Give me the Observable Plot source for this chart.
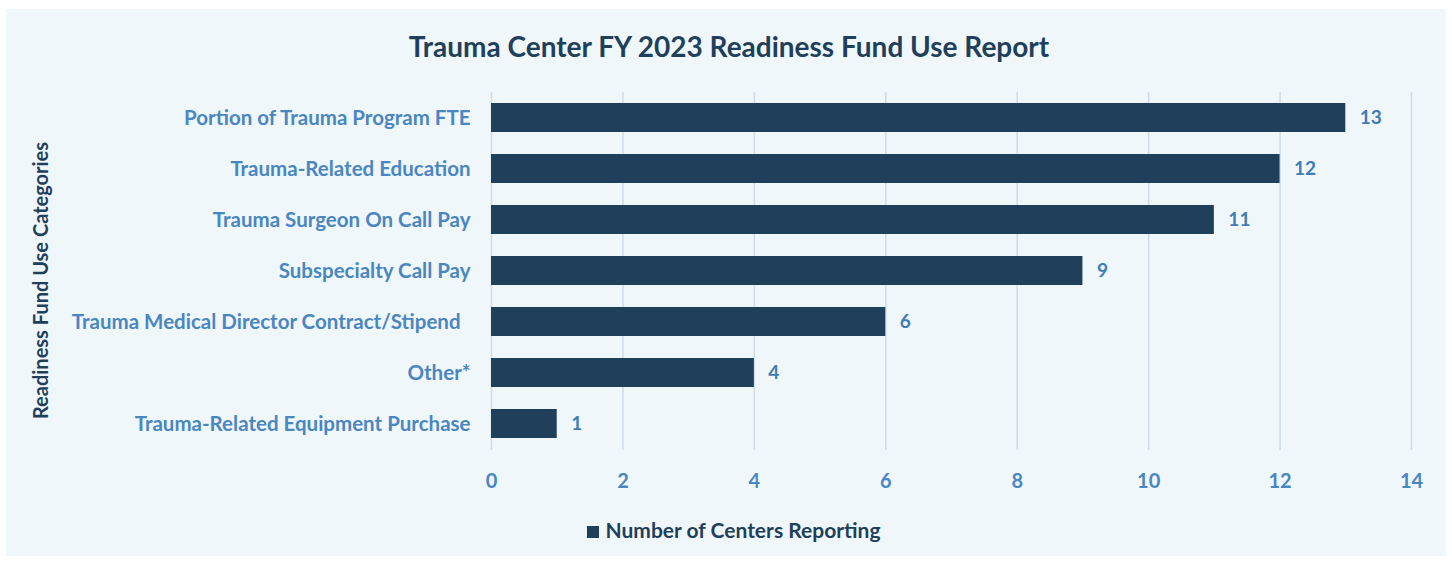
<!DOCTYPE html>
<html>
<head>
<meta charset="utf-8">
<script src="https://cdn.jsdelivr.net/npm/d3@7"></script>
<script src="https://cdn.jsdelivr.net/npm/@observablehq/plot@0.6"></script>
<style>
  html, body { margin: 0; padding: 0; background: #ffffff; }
  body { width: 1452px; height: 562px; position: relative; overflow: hidden; font-family: Lato, "Open Sans", sans-serif; }
  #panel { position: absolute; left: 6px; top: 9px; width: 1440px; height: 547px; background: #eff7fa; }
  #title { position: absolute; left: 0; top: 29px; width: 1458px; text-align: center; font-weight: bold; font-size: 28px; line-height: 34px; color: #1f3f5b; }
  #chart { position: absolute; left: 0; top: 80px; }
  #legend { position: absolute; left: 0; top: 517px; width: 1468px; text-align: center; font-weight: bold; font-size: 21px; line-height: 26px; color: #1f3f5b; }
  #legend .sw { display: inline-block; width: 12px; height: 12px; background: #1f3f5b; margin-right: 6px; vertical-align: 0px; }
</style>
</head>
<body>
<div id="panel"></div>
<div id="title">Trauma Center FY 2023 Readiness Fund Use Report</div>
<div id="chart"></div>
<div id="legend"><span class="sw"></span>Number of Centers Reporting</div>
<script>
const categories = [
  "Portion of Trauma Program FTE",
  "Trauma-Related Education",
  "Trauma Surgeon On Call Pay",
  "Subspecialty Call Pay",
  "Trauma Medical Director Contract/Stipend\u00a0\u00a0",
  "Other*",
  "Trauma-Related Equipment Purchase"
];
const values = [13, 12, 11, 9, 6, 4, 1];
const xTicks = [0, 2, 4, 6, 8, 10, 12, 14];
const yTitle = "Readiness Fund Use Categories";

const data = categories.map((c, i) => ({category: c, value: values[i]}));

const chart = Plot.plot({
  width: 1452,
  height: 420,
  marginLeft: 491,
  marginRight: 41,
  marginTop: 12,
  marginBottom: 50,
  style: {background: "transparent", fontFamily: "Lato, 'Open Sans', sans-serif"},
  x: {domain: [0, 14], ticks: xTicks},
  y: {domain: categories, paddingInner: 0.43, paddingOuter: 0.2},
  marks: [
    Plot.gridX(xTicks, {stroke: "#cfdce8", strokeOpacity: 1, strokeWidth: 1.5}),
    Plot.barX(data, {x: "value", y: "category", fill: "#1f3f5b"}),
    Plot.text(data, {x: "value", y: "category", text: d => String(d.value), textAnchor: "start", dx: 14, fill: "#3f7bb5", fontWeight: "bold", fontSize: 19}),
    Plot.axisX(xTicks, {tickSize: 0, tickPadding: 23, fontSize: 20, fontWeight: "bold", color: "#4a86c0", label: null}),
    Plot.axisY({tickSize: 0, tickPadding: 21, fontSize: 20.5, fontWeight: "bold", color: "#4a86c0", label: null}),
    Plot.text([yTitle], {frameAnchor: "left", textAnchor: "middle", dx: -450, dy: 9, rotate: -90, text: d => d, fill: "#1f3f5b", fontWeight: "bold", fontSize: 20})
  ]
});
document.getElementById("chart").appendChild(chart);
</script>
</body>
</html>
